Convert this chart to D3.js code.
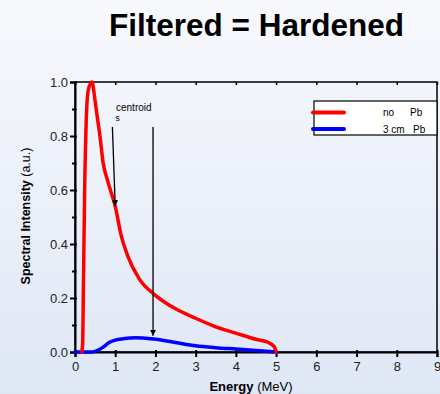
<!DOCTYPE html>
<html><head><meta charset="utf-8">
<script src="https://cdn.jsdelivr.net/npm/d3@7"></script>
<style>
html,body{margin:0;padding:0;overflow:hidden;}
body{width:440px;height:394px;}
svg{display:block;font-family:"Liberation Sans",Arial,sans-serif;}
</style></head>
<body>
<script>
// ---- data ----
const redX = [0.17,0.19,0.21,0.24,0.28,0.33,0.42,0.5,0.54,0.62,0.7,0.8,0.9,1.0,1.15,1.3,1.6,2.0,2.5,3.0,3.5,4.0,4.5,4.8,4.95,5.0];
const redY = [0.0,0.03,0.25,0.6,0.86,0.97,1.0,0.93,0.885,0.80,0.70,0.64,0.59,0.54,0.43,0.36,0.27,0.21,0.16,0.125,0.093,0.07,0.047,0.036,0.02,0.0];
const blueX = [0,0.43,0.55,0.7,0.85,1.0,1.2,1.5,1.95,2.5,3.0,3.5,4.0,4.5,5.0];
const blueY = [0,0,0.005,0.018,0.035,0.044,0.049,0.053,0.048,0.035,0.023,0.016,0.011,0.006,0.0];
const xTicks = [0,1,2,3,4,5,6,7,8,9];
const yTicks = [0,0.2,0.4,0.6,0.8,1.0];
const yMinor = [0.1,0.3,0.5,0.7,0.9];
const seriesLeft = ["no","3 cm"];
const seriesRight = ["Pb","Pb"];
const seriesColors = ["#ff0000","#0000ff"];
const arrowX = [[0.93,1.0],[1.94,1.94]];
const arrowY = [[0.833,0.54],[0.833,0.06]];

const W=440,H=394;
const svg=d3.select("body").append("svg").attr("width",W).attr("height",H);
const defs=svg.append("defs");
const g=defs.append("linearGradient").attr("id","bg").attr("x1",0).attr("y1",0).attr("x2",0).attr("y2",1);
g.append("stop").attr("offset","0%").attr("stop-color","#f8f9fd");
g.append("stop").attr("offset","100%").attr("stop-color","#dfe7f5");
svg.append("rect").attr("width",W).attr("height",H).attr("fill","url(#bg)");

svg.append("text").attr("x",256.5).attr("y",36).attr("text-anchor","middle")
  .attr("font-size",31.5).attr("font-weight","bold").attr("fill","#000").text("Filtered = Hardened");

const x=d3.scaleLinear().domain([0,9]).range([75,437]);
const y=d3.scaleLinear().domain([0,1]).range([352,82]);

// frame
svg.append("rect").attr("x",x(0)).attr("y",y(1)).attr("width",x(9)-x(0)).attr("height",y(0)-y(1))
  .attr("fill","none").attr("stroke","#000").attr("stroke-width",1.5);

// x axis
const xa=svg.append("g").attr("transform",`translate(0,${y(0)})`)
  .call(d3.axisBottom(x).tickValues(xTicks).tickFormat(d3.format("d")).tickSize(5).tickPadding(5));
xa.select(".domain").attr("stroke-width",2);
xa.selectAll(".tick line").attr("stroke-width",2).attr("y1",-2);
xa.selectAll("text").attr("font-size",13).attr("font-family","Liberation Sans, Arial, sans-serif").attr("fill","#222");
// top ticks
svg.append("g").attr("transform",`translate(0,${y(1)})`)
  .call(d3.axisTop(x).tickValues(xTicks).tickFormat("").tickSize(-3))
  .call(s=>s.select(".domain").remove()).selectAll(".tick line").attr("stroke-width",1.5);

// y axis
const ya=svg.append("g").attr("transform",`translate(${x(0)},0)`)
  .call(d3.axisLeft(y).tickValues(yTicks).tickFormat(d3.format(".1f")).tickSize(5).tickPadding(2));
ya.select(".domain").attr("stroke-width",2);
ya.selectAll(".tick line").attr("stroke-width",2).attr("x1",2);
ya.selectAll("text").attr("font-size",13).attr("font-family","Liberation Sans, Arial, sans-serif").attr("fill","#222");
const ym=svg.append("g").attr("transform",`translate(${x(0)},0)`)
  .call(d3.axisLeft(y).tickValues(yMinor).tickFormat("").tickSize(3));
ym.select(".domain").remove();
ym.selectAll(".tick line").attr("stroke-width",2).attr("x1",1.5);

// curves
const line=d3.line().x(d=>x(d[0])).y(d=>y(d[1])).curve(d3.curveMonotoneX);
const red=redX.map((v,i)=>[v,redY[i]]);
const blue=blueX.map((v,i)=>[v,blueY[i]]);
svg.append("path").datum(blue).attr("d",line).attr("fill","none").attr("stroke",seriesColors[1]).attr("stroke-width",3.5).attr("stroke-linejoin","round").attr("stroke-linecap","round");
svg.append("path").datum(red).attr("d",line).attr("fill","none").attr("stroke",seriesColors[0]).attr("stroke-width",3.5).attr("stroke-linejoin","round").attr("stroke-linecap","round");

// arrows
defs.append("marker").attr("id","ah").attr("viewBox","0 0 10 10").attr("refX",10).attr("refY",5)
  .attr("markerWidth",6).attr("markerHeight",6).attr("markerUnits","userSpaceOnUse").attr("orient","auto")
  .append("path").attr("d","M0,0L10,5L0,10z").attr("fill","#000");
arrowX.forEach((ax,i)=>{
  svg.append("line").attr("x1",x(ax[0])).attr("y1",y(arrowY[i][0])).attr("x2",x(ax[1])).attr("y2",y(arrowY[i][1]))
    .attr("stroke","#000").attr("stroke-width",1.3).attr("marker-end","url(#ah)");
});
svg.append("text").attr("x",116).attr("y",111).attr("font-size",10).attr("fill","#000").text("centroid");
svg.append("text").attr("x",115.5).attr("y",121).attr("font-size",8.5).attr("fill","#000").text("s");

// legend
svg.append("rect").attr("x",314).attr("y",101).attr("width",437-314).attr("height",34)
  .attr("fill","#ffffff").attr("stroke","#000").attr("stroke-width",1.2);
seriesLeft.forEach((n,i)=>{
  const yy=112.5+i*16.5;
  svg.append("line").attr("x1",313).attr("x2",344).attr("y1",yy).attr("y2",yy)
    .attr("stroke",seriesColors[i]).attr("stroke-width",4).attr("stroke-linecap","round");
  svg.append("text").attr("x",383).attr("y",yy+3.5).attr("font-size",10).attr("fill","#000").text(n);
  svg.append("text").attr("x",i===0?410:413).attr("y",yy+3.5).attr("font-size",10).attr("fill","#000").text(seriesRight[i]);
});

// axis titles
const xl=svg.append("text").attr("x",251).attr("y",391).attr("text-anchor","middle").attr("font-size",13).attr("fill","#000");
xl.append("tspan").attr("font-weight","bold").text("Energy");
xl.append("tspan").text(" (MeV)");
const yl=svg.append("text").attr("transform","translate(30,216) rotate(-90)").attr("text-anchor","middle").attr("font-size",12.5).attr("fill","#000");
yl.append("tspan").attr("font-weight","bold").text("Spectral Intensity");
yl.append("tspan").text(" (a.u.)");
</script>
</body></html>
